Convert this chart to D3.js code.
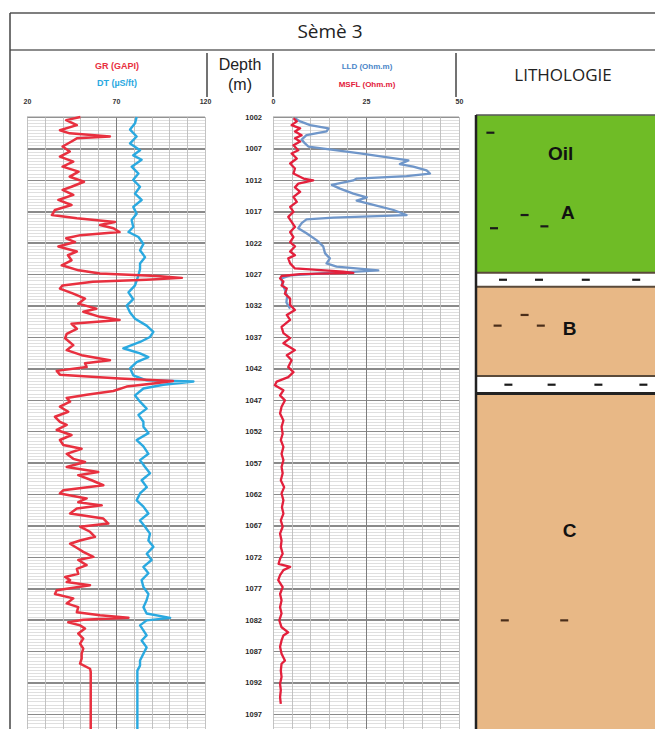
<!DOCTYPE html>
<html>
<head>
<meta charset="utf-8">
<script src="https://cdnjs.cloudflare.com/ajax/libs/d3/7.8.5/d3.min.js"></script>
<style>
  body { margin: 0; background: #fff; }
  svg { display: block; }
  .grid line { shape-rendering: crispEdges; }
  .grid path { display: none; }
</style>
</head>
<body>
<div id="chart"></div>
<script>
// ---- data (depth in m, value) ----
const grLog = [[1002.0,50],[1002.5,42],[1003.3,48],[1004.1,38.5],[1004.6,44],[1005.1,66.6],[1005.4,48],[1005.9,45],[1006.7,40],[1007.5,44],[1008.3,38.5],[1009.1,46],[1009.9,40],[1010.7,49],[1011.5,44],[1012.3,52],[1013.1,45],[1013.6,40],[1014.4,46],[1015.2,37.6],[1016.0,45],[1016.8,35.7],[1017.6,34],[1018.1,48],[1018.7,69.4],[1019.2,61],[1019.7,68.5],[1020.3,72],[1020.8,50],[1021.3,42],[1021.9,47],[1022.6,37.6],[1023.4,48],[1024.0,43],[1024.8,45],[1025.6,39.5],[1026.4,49],[1026.9,61],[1027.3,93],[1027.6,107],[1027.9,87],[1028.2,57],[1028.8,40],[1029.3,38.5],[1030.1,46],[1030.9,52.6],[1031.7,48.8],[1032.5,59],[1033.0,51.6],[1033.8,61],[1034.3,72],[1034.9,45],[1035.7,48],[1036.5,42.3],[1037.2,41.4],[1038.3,46],[1039.1,42.3],[1039.9,50.7],[1040.7,66.6],[1041.2,52.6],[1041.8,53.5],[1042.4,36.7],[1043.0,38.5],[1043.6,72],[1044.0,102],[1044.4,91],[1044.9,76],[1045.6,68.5],[1046.2,53.5],[1046.7,42.3],[1047.3,44.2],[1048.1,38.5],[1048.9,43.2],[1049.7,35.7],[1050.5,38.5],[1051.0,42.3],[1051.8,36.7],[1052.6,45],[1053.4,38.5],[1054.2,40.4],[1054.8,50.7],[1055.6,42.3],[1056.4,46],[1056.9,52.6],[1057.7,42.3],[1058.5,60],[1059.0,48.8],[1059.8,56.3],[1060.6,62.9],[1061.4,40.4],[1061.9,38.5],[1062.7,53.5],[1063.3,48.8],[1063.8,62],[1064.3,48],[1065.1,44.2],[1065.9,62.9],[1066.7,65.7],[1067.2,49.8],[1068.0,55.4],[1068.8,58.2],[1069.4,49.8],[1069.9,44.2],[1070.7,48.8],[1071.2,51.6],[1072.0,57.3],[1072.5,48.8],[1073.3,53.5],[1073.9,48],[1074.7,48.8],[1075.2,41.4],[1075.7,44.2],[1076.0,42.3],[1076.5,55.4],[1077.3,36.7],[1077.9,35.7],[1078.6,46],[1079.4,42.3],[1080.0,48.8],[1080.8,48],[1081.3,61],[1081.7,77],[1082.0,51.6],[1082.4,43.2],[1082.9,49.8],[1083.4,52.6],[1084.2,48.8],[1085.0,51.6],[1085.8,49.8],[1086.6,51.6],[1087.4,50.7],[1088.2,50.7],[1089.0,49.8],[1089.8,55.4],[1090.3,55.8],[1100,55.8]];

const dtLog = [[1002.0,81.6],[1003.0,80.7],[1004.0,77.9],[1005.1,81.6],[1006.2,77.9],[1007.3,83.5],[1008.1,79.7],[1008.8,84.4],[1009.9,78.8],[1011.0,82.6],[1012.0,79.7],[1013.1,83.5],[1014.2,80.7],[1015.2,84.4],[1016.3,79.7],[1017.4,81.6],[1018.4,78.8],[1019.5,79.7],[1020.3,77],[1021.1,82.6],[1022.2,85.4],[1023.2,83.5],[1024.3,86.3],[1025.3,83.5],[1026.2,83.5],[1027.2,82.6],[1028.8,80.7],[1029.9,77],[1031.0,79.7],[1032.0,76],[1033.1,77.9],[1034.1,80.7],[1035.2,87.2],[1036.2,91],[1037.0,89.1],[1037.8,83.5],[1038.8,74.1],[1039.6,83.5],[1040.2,88.2],[1041.0,81.6],[1042.0,77.9],[1043.1,79.7],[1043.9,87.2],[1044.1,113.5],[1044.6,96.6],[1045.2,85.4],[1046.3,80.7],[1047.3,83.5],[1048.4,87.2],[1049.4,82.6],[1050.5,85.4],[1051.3,85.4],[1052.3,88.2],[1053.4,81.6],[1054.4,85.4],[1055.6,88.2],[1056.6,83.5],[1057.7,86.3],[1058.7,89.1],[1059.8,84.4],[1060.9,87.3],[1061.9,83.5],[1063.0,81.6],[1064.0,85.4],[1065.1,88.2],[1066.2,83.5],[1067.2,86.3],[1068.3,89.1],[1069.4,88.2],[1070.4,91],[1071.5,87.3],[1072.5,90],[1073.6,85.4],[1074.6,88.2],[1075.7,84.4],[1076.8,85.4],[1077.9,88.2],[1078.9,87.2],[1080.0,85.4],[1081.0,87.2],[1081.7,100.4],[1082.1,87.2],[1082.9,83.5],[1083.7,85.4],[1084.5,87.2],[1085.3,84.4],[1086.4,87.2],[1087.4,85.4],[1088.5,83.5],[1089.3,83.5],[1090.1,82],[1100,82]];

const lldLog = [[1002.2,5.9],[1002.7,7.3],[1003.3,10],[1003.8,14.9],[1004.3,14.4],[1004.9,9],[1005.6,7.7],[1006.2,8.6],[1006.7,9.5],[1007.8,23.4],[1008.9,36.4],[1009.5,34.1],[1009.9,37.7],[1010.5,41.3],[1011.0,42.2],[1011.4,35.9],[1011.8,22.5],[1012.1,21.6],[1012.8,15.8],[1013.4,18],[1014.2,21.6],[1014.8,25.2],[1015.3,22.5],[1016.0,27],[1016.8,32.4],[1017.6,35.9],[1018.0,16.2],[1018.3,9],[1018.9,7.7],[1019.7,6.8],[1020.5,9],[1021.6,11.7],[1022.6,13.5],[1023.7,14],[1024.5,15.3],[1025.3,14.4],[1025.8,17.1],[1026.4,28.3],[1026.6,22.5],[1026.9,12.6],[1027.2,4.6],[1027.7,2.3],[1028.5,2.5],[1029.5,3.2],[1030.5,3.8],[1031.5,3.6],[1032.5,4.6]];

const msflLog = [[1002.2,5.5],[1002.7,6.4],[1003.3,5],[1003.8,7.3],[1004.3,5.9],[1004.9,7.7],[1005.4,5.9],[1005.9,7.3],[1006.5,5.5],[1007.3,6.8],[1007.8,5],[1008.6,6.4],[1009.4,4.6],[1010.2,5.9],[1011.0,5.5],[1011.8,8.2],[1012.1,10.8],[1012.6,6.8],[1013.2,5.9],[1013.9,7.3],[1014.7,5.5],[1015.5,6.4],[1016.3,4.6],[1017.1,5.5],[1017.9,4.1],[1018.7,5],[1019.5,5.9],[1020.3,4.6],[1021.1,5.5],[1021.9,4.6],[1022.6,5.9],[1023.4,4.6],[1024.0,5.9],[1024.5,4.1],[1025.3,4.6],[1026.1,5.9],[1026.6,18.9],[1026.8,21.6],[1027.0,7.3],[1027.3,2.3],[1027.7,1.9],[1028.2,2.8],[1028.8,2.3],[1029.3,3.7],[1030.1,3.2],[1030.9,4.6],[1031.9,4.6],[1032.7,5.9],[1033.5,3.7],[1034.3,4.6],[1035.4,2.3],[1036.4,2.8],[1037.2,4.6],[1038.0,2.8],[1039.1,5.9],[1039.9,3.7],[1040.7,5.0],[1041.8,4.1],[1042.6,5.5],[1043.4,4.1],[1044.1,1.0],[1044.7,0.5],[1045.5,2.8],[1046.3,1.9],[1047.1,3.2],[1048.1,2.3],[1049.2,1.9],[1050.3,2.8],[1051.3,2.3],[1052.4,2.6],[1053.4,2.1],[1054.5,2.8],[1055.6,2.3],[1056.6,2.8],[1057.7,2.3],[1058.7,2.6],[1059.8,2.1],[1060.9,3.0],[1061.9,2.3],[1063.0,2.8],[1064.1,2.4],[1065.1,2.8],[1066.2,2.1],[1067.2,2.6],[1068.3,1.9],[1069.4,2.3],[1070.4,2.1],[1071.5,2.6],[1072.3,1.9],[1073.1,1.5],[1073.6,4.6],[1074.1,2.8],[1074.9,1.9],[1075.7,1.4],[1076.8,2.6],[1077.9,1.9],[1078.9,2.3],[1080.0,1.9],[1081.0,2.3],[1082.1,1.7],[1083.2,2.3],[1084.0,4.1],[1084.5,2.8],[1085.3,2.3],[1086.3,1.9],[1087.4,2.3],[1088.5,3.2],[1089.0,2.3],[1090.1,2.1],[1091.1,2.3],[1092.2,1.9],[1093.2,2.1],[1094.3,1.9],[1095.4,2.1]];

const depthTicks = [1002,1007,1012,1017,1022,1027,1032,1037,1042,1047,1052,1057,1062,1067,1072,1077,1082,1087,1092,1097];
const grTicks = [20, 70, 120];
const resTicks = [0, 25, 50];

// lithology: top, bottom, kind
const lithoLayers = [
  { top: 1001.7, bottom: 1026.8, kind: "oil" },
  { top: 1026.8, bottom: 1029.0, kind: "shale" },
  { top: 1029.0, bottom: 1043.2, kind: "sand" },
  { top: 1043.2, bottom: 1046.0, kind: "shale" },
  { top: 1046.0, bottom: 1100,   kind: "sand" }
];
const lithoLabels = [
  { depth: 1007.7, pos: 47, text: "Oil" },
  { depth: 1017.1, pos: 51, text: "A" },
  { depth: 1035.6, pos: 52, text: "B" },
  { depth: 1067.8, pos: 52, text: "C" }
];
// small dash marks: depth, position (0-100 across column)
const lithoDashes = [
  [1004.5, 8], [1017.6, 27], [1019.4, 38], [1019.7, 10],
  [1027.9, 15], [1027.9, 35], [1027.9, 61], [1027.9, 89],
  [1035.2, 12], [1033.5, 27], [1035.2, 36],
  [1044.6, 18], [1044.6, 42], [1044.6, 68], [1044.6, 93],
  [1082.1, 16], [1082.1, 49]
];

// ---- layout ----
const W = 655, H = 729;
const svg = d3.select("#chart").append("svg")
    .attr("width", W).attr("height", H);

const y = d3.scaleLinear().domain([1002, 1097]).range([117, 714]);
const bottomDepth = y.invert(H);
const xGR = d3.scaleLinear().domain([20, 120]).range([27, 205]);
const xRes = d3.scaleLinear().domain([0, 50]).range([273, 459]);
const xLit = d3.scaleLinear().domain([0, 100]).range([476, 656]);

const font = "'Liberation Sans', Arial, sans-serif";

// outer frame
svg.append("line").attr("x1", 10).attr("x2", W).attr("y1", 13).attr("y2", 13)
    .attr("stroke", "#555").attr("stroke-width", 1.5);
svg.append("line").attr("x1", 10).attr("x2", W).attr("y1", 50).attr("y2", 50)
    .attr("stroke", "#666").attr("stroke-width", 1.5);
svg.append("line").attr("x1", 10).attr("x2", 10).attr("y1", 13).attr("y2", H)
    .attr("stroke", "#444").attr("stroke-width", 1.5);

svg.append("text").attr("x", 330).attr("y", 38).attr("text-anchor", "middle")
    .style("font-family", "'Open Sans', sans-serif").style("font-size", "19px")
    .attr("fill", "#222").text("Sèmè 3");

// header separators
[207, 273, 456].forEach(x => {
  svg.append("line").attr("x1", x).attr("x2", x).attr("y1", 53).attr("y2", 97)
      .attr("stroke", "#444").attr("stroke-width", 1.5);
});

function headerText(x, yy, txt, color, size, weight) {
  svg.append("text").attr("x", x).attr("y", yy).attr("text-anchor", "middle")
      .style("font-family", font).style("font-size", size + "px")
      .style("font-weight", weight || "bold").attr("fill", color).text(txt);
}
headerText(117, 69, "GR (GAPI)", "#e8303f", 9);
headerText(117, 86, "DT (µS/ft)", "#29a8df", 9);
headerText(367, 69, "LLD (Ohm.m)", "#4a86c8", 8);
headerText(367, 87, "MSFL (Ohm.m)", "#e3203c", 8);
headerText(240, 70, "Depth", "#222", 16, "normal");
headerText(240, 90, "(m)", "#222", 16, "normal");
svg.append("text").attr("x", 563).attr("y", 81).attr("text-anchor", "middle")
    .style("font-family", "'Open Sans', sans-serif").style("font-size", "17px")
    .attr("fill", "#222").text("LITHOLOGIE");

// scale labels (axes)
function scaleAxis(scale, ticks) {
  const g = svg.append("g").attr("transform", "translate(0,104)")
      .call(d3.axisTop(scale).tickValues(ticks).tickSize(0).tickPadding(0));
  g.select(".domain").remove();
  g.selectAll("text").style("font-family", font).style("font-size", "7px")
      .style("font-weight", "bold").attr("fill", "#333");
}
scaleAxis(xGR, grTicks);
scaleAxis(xRes, resTicks);

// ---- track grids ----
const minorDepths = d3.range(1002, bottomDepth, 0.5).filter(d => (d - 1002) % 5 !== 0);
const majorDepths = d3.range(1002, bottomDepth, 5);

function trackGrid(xs, vStep, midValue) {
  const [x0, x1] = xs.range();
  const w = x1 - x0;
  const g = svg.append("g");
  g.append("g").attr("class", "grid")
      .attr("transform", `translate(${x0},0)`)
      .call(d3.axisLeft(y).tickValues(minorDepths).tickSize(-w).tickFormat(""))
      .selectAll("line").attr("stroke", "#d2d2d2").attr("stroke-width", 0.7);
  g.append("g").attr("class", "grid")
      .attr("transform", `translate(${x0},0)`)
      .call(d3.axisLeft(y).tickValues(majorDepths).tickSize(-w).tickFormat(""))
      .selectAll("line").attr("stroke", "#8a8a8a").attr("stroke-width", 1.5);
  const vTicks = d3.range(xs.domain()[0], xs.domain()[1] + 0.001, vStep);
  g.append("g").attr("class", "grid")
      .attr("transform", `translate(0,${y(1002)})`)
      .call(d3.axisBottom(xs).tickValues(vTicks).tickSize(H - y(1002)).tickFormat(""))
      .selectAll("line")
      .attr("stroke", d => d === midValue ? "#7d7d7d" : "#bdbdbd")
      .attr("stroke-width", d => d === midValue ? 1.3 : 0.9);
  g.append("line").attr("x1", x0).attr("x2", x1).attr("y1", y(1002)).attr("y2", y(1002))
      .attr("stroke", "#999").attr("stroke-width", 1.2);
}
trackGrid(xGR, 10, 70);
trackGrid(xRes, 5, 25);

// depth labels
const depthAxis = svg.append("g").attr("transform", "translate(262,0)")
    .call(d3.axisLeft(y).tickValues(depthTicks).tickSize(0).tickPadding(0).tickFormat(d3.format("d")));
depthAxis.select(".domain").remove();
depthAxis.selectAll("text").style("font-family", font).style("font-size", "7.5px")
    .style("font-weight", "bold").attr("fill", "#2a2a2a");

// ---- curves ----
function curve(data, xs, color, width) {
  svg.append("path").datum(data)
      .attr("fill", "none").attr("stroke", color).attr("stroke-width", width)
      .attr("stroke-linejoin", "round")
      .attr("d", d3.line().x(d => xs(d[1])).y(d => y(d[0])));
}
curve(dtLog, xGR, "#2aa9e0", 2.4);
curve(grLog, xGR, "#e8303f", 2.5);
curve(lldLog, xRes, "#6f96c9", 2.3);
curve(msflLog, xRes, "#e3203c", 2.3);

// ---- lithology column ----
const lithoFill = { oil: "#6fbc26", sand: "#e8b886", shale: "#ffffff" };
svg.append("g").selectAll("rect").data(lithoLayers).join("rect")
    .attr("x", xLit(0)).attr("width", xLit(100) - xLit(0))
    .attr("y", d => y(d.top)).attr("height", d => y(d.bottom) - y(d.top))
    .attr("fill", d => lithoFill[d.kind]);
svg.append("g").selectAll("line").data(lithoLayers.slice(1)).join("line")
    .attr("x1", xLit(0)).attr("x2", xLit(100))
    .attr("y1", d => y(d.top)).attr("y2", d => y(d.top))
    .attr("stroke", (d, i) => i === 3 ? "#222" : "#5a4a3a")
    .attr("stroke-width", (d, i) => i === 3 ? 3 : 2);
svg.append("line").attr("x1", xLit(0)).attr("x2", xLit(100))
    .attr("y1", y(lithoLayers[0].top)).attr("y2", y(lithoLayers[0].top))
    .attr("stroke", "#555").attr("stroke-width", 1.5);
svg.append("line").attr("x1", xLit(0)).attr("x2", xLit(0))
    .attr("y1", y(lithoLayers[0].top)).attr("y2", H)
    .attr("stroke", "#222").attr("stroke-width", 2.5);

svg.append("g").selectAll("line").data(lithoDashes).join("line")
    .attr("x1", d => xLit(d[1]) - 4).attr("x2", d => xLit(d[1]) + 4)
    .attr("y1", d => y(d[0])).attr("y2", d => y(d[0]))
    .attr("stroke", d => (d[0] > 1029 && d[0] < 1043) || d[0] > 1046 ? "#4a2e1a" : "#1a1a1a")
    .attr("stroke-width", 2.2);

svg.append("g").selectAll("text").data(lithoLabels).join("text")
    .attr("x", d => xLit(d.pos)).attr("y", d => y(d.depth))
    .attr("dy", "0.36em").attr("text-anchor", "middle")
    .style("font-family", font).style("font-size", "19px").style("font-weight", "bold")
    .attr("fill", "#111").text(d => d.text);
</script>
</body>
</html>
